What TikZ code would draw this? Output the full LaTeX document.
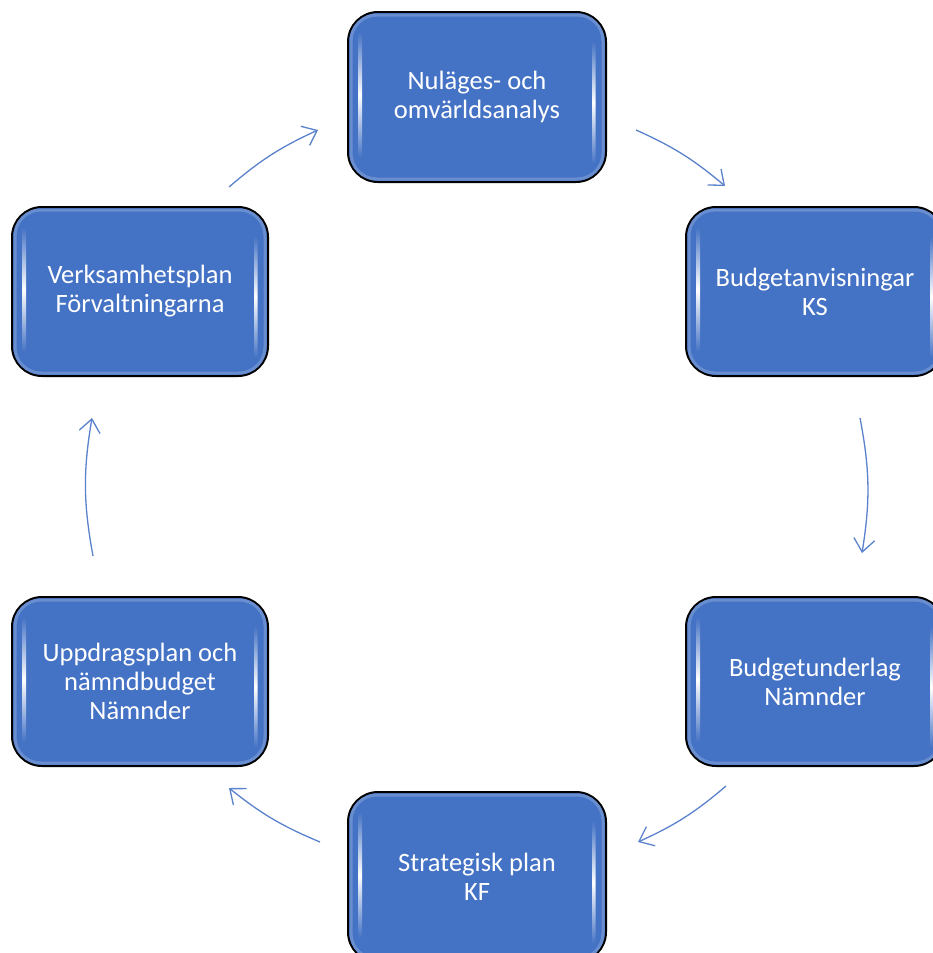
\documentclass[tikz,border=0pt]{standalone}
\usepackage{fontspec}
\setmainfont{Carlito}
\usetikzlibrary{arrows.meta}
\definecolor{boxblue}{HTML}{4472C4}
\definecolor{arrowblue}{HTML}{5B82CC}
\tikzset{
  stepbox/.style={draw=black, line width=2pt, fill=boxblue, rounded corners=30pt,
    minimum width=258pt, minimum height=169pt, inner sep=0pt, text=white,
    font=\fontsize{26.5}{29}\selectfont, align=center},
  flow/.style={draw=arrowblue, line width=1.3pt,
    -{Straight Barb[length=13pt,width=21pt,line width=1.3pt]}},
  hl/.style={top color=boxblue, bottom color=boxblue, middle color=white, rounded corners=1.5pt},
  bevel/.style={draw=boxblue!80!white, line width=3pt, rounded corners=26pt}
}
\newcommand{\decobox}[1]{%
  \draw[bevel] ([shift={(4pt,-4pt)}]#1.north west) rectangle ([shift={(-4pt,4pt)}]#1.south east);
  \shade[hl] ([shift={(11.5pt,-21pt)}]#1.north west) rectangle ([shift={(15pt,25pt)}]#1.south west);
  \shade[hl] ([shift={(-11.5pt,-30pt)}]#1.north east) rectangle ([shift={(-15pt,19pt)}]#1.south east);
}
\begin{document}
\begin{tikzpicture}[x=1pt,y=-1pt]
\useasboundingbox (0,0) rectangle (933,953);
\clip (0,0) rectangle (933,953);
\fill[white] (0,0) rectangle (933,953);

% connectors (arcs of one circle)
\coordinate (a1s) at (636,130); \coordinate (a1e) at (725,186);
\coordinate (a2s) at (860,418); \coordinate (a2e) at (862,553);
\coordinate (a3s) at (726,786); \coordinate (a3e) at (638,842);
\coordinate (a4s) at (320,842); \coordinate (a4e) at (229,788);
\coordinate (a5s) at (93,556);  \coordinate (a5e) at (92,418);
\coordinate (a6s) at (229,187); \coordinate (a6e) at (318,130);
\draw[flow] (a1s) to[bend left=8] (a1e);
\draw[flow] (a2s) to[bend left=10] (a2e);
\draw[flow] (a3s) to[bend left=8] (a3e);
\draw[flow] (a4s) to[bend left=8] (a4e);
\draw[flow] (a5s) to[bend left=10] (a5e);
\draw[flow] (a6s) to[bend left=8] (a6e);

% boxes
\node[stepbox, minimum height=170pt] (top) at (477,97) {Nuläges- och\\omvärldsanalys};
\decobox{top}
\node[stepbox] (ru) at (815,291.5) {Budgetanvisningar\\KS};
\decobox{ru}
\node[stepbox] (rl) at (815,681.5) {Budgetunderlag\\Nämnder};
\decobox{rl}
\node[stepbox, minimum height=170pt] (bot) at (477,877) {Strategisk plan\\KF};
\decobox{bot}
\node[stepbox, minimum width=256pt] (ll) at (140,681.5) {Uppdragsplan och\\nämndbudget\\Nämnder};
\decobox{ll}
\node[stepbox, minimum width=256pt] (lu) at (140,291.5) {Verksamhetsplan\\Förvaltningarna};
\decobox{lu}
\end{tikzpicture}
\end{document}
